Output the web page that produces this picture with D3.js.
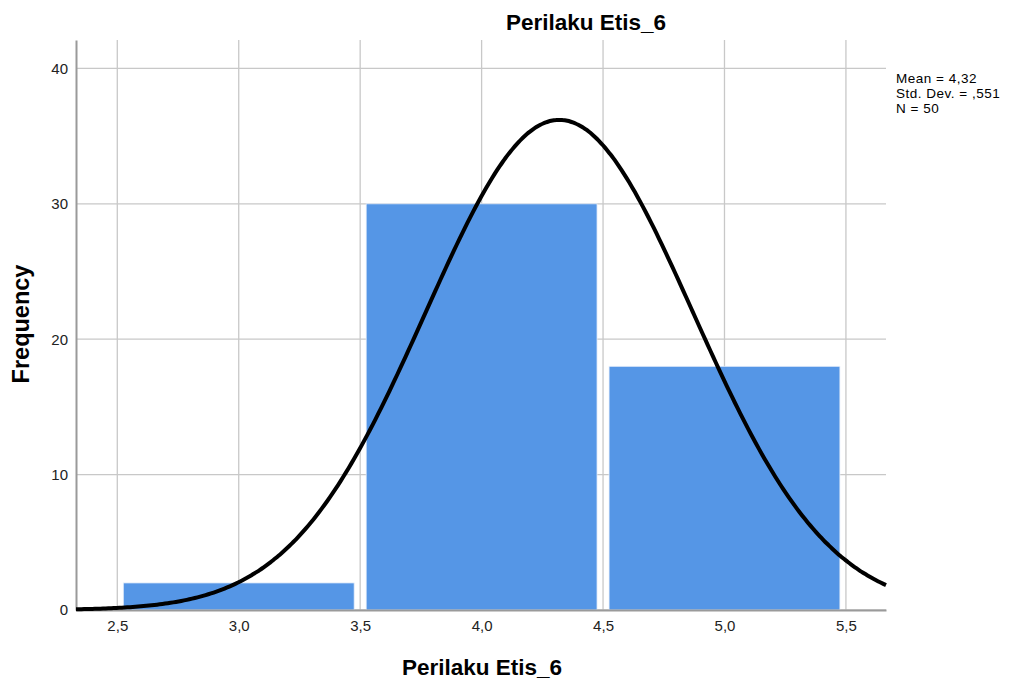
<!DOCTYPE html>
<html>
<head>
<meta charset="utf-8">
<script src="https://cdn.jsdelivr.net/npm/d3@7"></script>
<style>
  body { margin: 0; background: #fff; }
  text { font-family: "Liberation Sans", Arial, sans-serif; }
</style>
</head>
<body>
<div id="chart"></div>
<script>
// histogram bins (lower edge, upper edge, frequency)
const binStart = [2.5, 3.5, 4.5]
const binEnd = [3.5, 4.5, 5.5]
const freq = [2, 30, 18]
const xTicks = [2.5, 3.0, 3.5, 4.0, 4.5, 5.0, 5.5]
const yTicks = [0, 10, 20, 30, 40]
const statLines = ['Mean = 4,32', 'Std. Dev. = ,551', 'N = 50']
const mean = 4.32, sd = 0.551, n = 50

const W = 1011, H = 687
const margin = { left: 76, right: 125, top: 40, bottom: 77 }
const width = W - margin.left - margin.right
const height = H - margin.top - margin.bottom

const svg = d3.select('#chart').append('svg')
    .attr('width', W)
    .attr('height', H)

const g = svg.append('g')
    .attr('transform', `translate(${margin.left},${margin.top})`)

const xScale = d3.scaleLinear().domain([2.33, 5.665]).range([0, width])
const yScale = d3.scaleLinear().domain([0, 42.1]).range([height, 0])

const fmt = d => d3.format('.1f')(d).replace('.', ',')

//grid lines
g.append('g').selectAll('line.vg')
    .data(xTicks).enter().append('line')
    .attr('x1', d => xScale(d)).attr('x2', d => xScale(d))
    .attr('y1', 0).attr('y2', height)
    .attr('stroke', '#c8c8c8').attr('stroke-width', 1.3)
g.append('g').selectAll('line.hg')
    .data(yTicks).enter().append('line')
    .attr('x1', 0).attr('x2', width)
    .attr('y1', d => yScale(d)).attr('y2', d => yScale(d))
    .attr('stroke', '#c8c8c8').attr('stroke-width', 1.3)

//bars
g.selectAll('rect.bar')
    .data(freq).enter().append('rect')
    .attr('x', (d, i) => xScale(binStart[i]) + 6)
    .attr('width', (d, i) => xScale(binEnd[i]) - xScale(binStart[i]) - 12)
    .attr('y', d => yScale(d))
    .attr('height', d => height - yScale(d))
    .attr('fill', '#5596e6')
    .attr('stroke', '#e8f0fb')
    .attr('stroke-width', 0.8)

//axes
const xaxis = d3.axisBottom(xScale).tickValues(xTicks).tickFormat(fmt).tickSize(0).tickPadding(10)
const yaxis = d3.axisLeft(yScale).tickValues(yTicks).tickSize(0).tickPadding(8)
const xg = g.append('g').attr('transform', `translate(0,${height})`).call(xaxis)
const yg = g.append('g').call(yaxis)
for (const a of [xg, yg]) {
    a.select('.domain').attr('stroke', '#9a9a9a').attr('stroke-width', 2)
    a.selectAll('text').style('font-size', '15px').attr('fill', '#222')
}

//normal curve
const pts = d3.range(0, 301).map(i => xScale.domain()[0] + i * (xScale.domain()[1] - xScale.domain()[0]) / 300)
const line = d3.line()
    .x(d => xScale(d))
    .y(d => yScale(n * Math.exp(-0.5 * ((d - mean) / sd) ** 2) / (sd * Math.sqrt(2 * Math.PI))))
    .curve(d3.curveBasis)
g.append('path')
    .datum(pts)
    .attr('d', line)
    .attr('fill', 'none')
    .attr('stroke', '#000')
    .attr('stroke-width', 4)

//title
svg.append('text')
    .attr('x', 586).attr('y', 30)
    .attr('text-anchor', 'middle')
    .style('font-size', '22.5px').style('font-weight', 'bold')
    .text('Perilaku Etis_6')

//x label
svg.append('text')
    .attr('x', 482).attr('y', 675)
    .attr('text-anchor', 'middle')
    .style('font-size', '22.5px').style('font-weight', 'bold')
    .text('Perilaku Etis_6')

//y label
svg.append('text')
    .attr('transform', 'translate(29,324) rotate(-90)')
    .attr('text-anchor', 'middle')
    .style('font-size', '23.5px').style('font-weight', 'bold')
    .text('Frequency')

//stats
svg.append('g').selectAll('text')
    .data(statLines).enter().append('text')
    .attr('x', 896).attr('y', (d, i) => 83 + i * 15)
    .style('font-size', '13.5px')
    .style('letter-spacing', '0.5px')
    .text(d => d)
</script>
</body>
</html>
